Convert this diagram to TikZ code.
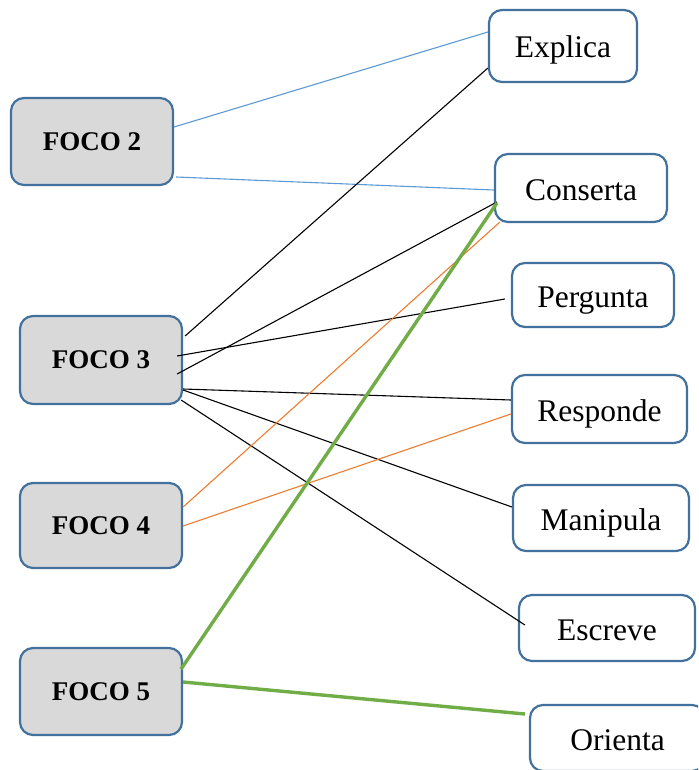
\documentclass[tikz,border=0pt]{standalone}
\usepackage{fontspec}
\setmainfont{Liberation Serif}
\definecolor{bordc}{HTML}{41719C}
\definecolor{fillg}{HTML}{D9D9D9}
\definecolor{lblue}{HTML}{5B9BD5}
\definecolor{lorange}{HTML}{ED7D31}
\definecolor{lgreen}{HTML}{70AD47}
\tikzset{
  focobox/.style={draw=bordc, line width=2.2pt, fill=fillg, rounded corners=13pt,
    inner sep=0pt, minimum width=162pt, font=\fontsize{27}{30}\selectfont\bfseries},
  actbox/.style={draw=bordc, line width=2.2pt, fill=white, rounded corners=13pt,
    inner sep=0pt, text height=26pt, text depth=2pt, font=\fontsize{31.5}{34}\selectfont},
  bline/.style={lblue, line width=1.1pt},
  kline/.style={black, line width=1.1pt},
  oline/.style={lorange, line width=1.1pt},
  gline/.style={lgreen, line width=3.4pt},
}
\begin{document}
\begin{tikzpicture}[x=1pt,y=-1pt]
\clip (0,0) rectangle (698,770);
\fill[white] (0,0) rectangle (698,770);
% left nodes
\node[focobox, minimum height=87pt] (foco2) at (92,141.5) {FOCO 2};
\node[focobox, minimum height=88pt] (foco3) at (101,360) {FOCO 3};
\node[focobox, minimum height=85pt] (foco4) at (101,525.5) {FOCO 4};
\node[focobox, minimum height=87pt] (foco5) at (101,691.5) {FOCO 5};
% right nodes
\node[actbox, minimum width=148pt, minimum height=72pt] (explica) at (563,46) {Explica};
\node[actbox, minimum width=172pt, minimum height=68pt] (conserta) at (581,188) {Conserta};
\node[actbox, minimum width=162pt, minimum height=64pt] (pergunta) at (593,295) {Pergunta};
\node[actbox, minimum width=175pt, minimum height=68pt] (responde) at (599.5,409) {Responde};
\node[actbox, minimum width=176pt, minimum height=66pt] (manipula) at (601,518) {Manipula};
\node[actbox, minimum width=176pt, minimum height=66pt] (escreve) at (607,628) {Escreve};
\node[actbox, minimum width=175pt, minimum height=66pt] (orienta) at (617.5,738) {Orienta};
% connectors
\draw[bline] ([yshift=14.5pt]foco2.east) -- ([yshift=14pt]explica.west);
\draw[bline] ([xshift=2pt,yshift=-35.5pt]foco2.east) -- ([yshift=-2pt]conserta.west);
\draw[kline] ([xshift=2pt,yshift=24pt]foco3.east) -- ([yshift=-22pt]explica.west);
\draw[kline] ([xshift=-6pt,yshift=4pt]foco3.east) -- ([xshift=-6pt,yshift=-4pt]pergunta.west);
\draw[kline] ([xshift=-6pt,yshift=-14pt]foco3.east) -- ([xshift=3pt,yshift=-14pt]conserta.west);
\draw[kline] ([yshift=-29pt]foco3.east) -- ([yshift=9pt]responde.west);
\draw[kline] ([yshift=-30pt]foco3.east) -- ([yshift=11pt]manipula.west);
\draw[kline] ([xshift=-2pt,yshift=-40pt]foco3.east) -- ([xshift=7pt,yshift=3pt]escreve.west);
\draw[oline] ([yshift=18.5pt]foco4.east) -- ([xshift=6pt,yshift=-34pt]conserta.west);
\draw[oline] ([yshift=-0.5pt]foco4.east) -- ([yshift=-5pt]responde.west);
\draw[gline] ([xshift=-2pt,yshift=22.5pt]foco5.east) -- ([xshift=3pt,yshift=-15pt]conserta.west);
\draw[gline] ([yshift=9.5pt]foco5.east) -- ([xshift=-4pt,yshift=24pt]orienta.west);
\end{tikzpicture}
\end{document}
